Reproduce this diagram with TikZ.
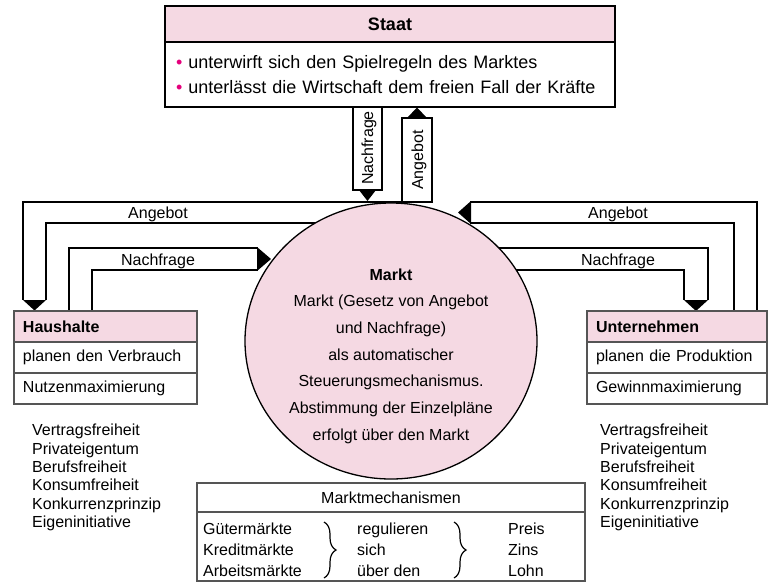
\documentclass[tikz,border=0pt]{standalone}
\usepackage{fontspec}
\setmainfont{Liberation Sans}
\usetikzlibrary{shapes.geometric,decorations.pathreplacing}

\definecolor{rosa}{RGB}{245,217,227}
\definecolor{punkt}{RGB}{228,0,124}
\definecolor{rand}{RGB}{85,85,85}

\begin{document}
\begin{tikzpicture}[x=1pt,y=-1pt,
  every node/.style={font=\fontsize{16}{19}\selectfont},
  band/.style={line width=2pt},
  kasten/.style={draw=rand,line width=1.5pt,outer sep=0pt,anchor=north west,inner xsep=9pt,inner ysep=0pt,align=left},
  liste/.style={anchor=north west,inner sep=0pt,align=left,font=\fontsize{16}{18.3}\selectfont},
  spalte/.style={anchor=west,inner sep=0pt,align=left,font=\fontsize{16}{21}\selectfont},
  klammer/.style={decorate,decoration={brace,amplitude=12pt},line width=1.2pt}]
\useasboundingbox (0,0) rectangle (771,582);

% Staat
\node[draw,line width=2.2pt,outer sep=0pt,fill=rosa,anchor=north,minimum width=450pt,minimum height=36pt,font=\fontsize{18}{21}\selectfont\bfseries] (staat) at (390,6) {Staat};
\node[draw,line width=2.2pt,outer sep=0pt,anchor=north,text width=428pt,inner xsep=11pt,minimum height=65pt,align=left,font=\fontsize{18}{25}\selectfont] (regeln) at (staat.south) {\textcolor{punkt}{•}\hspace{6pt}unterwirft sich den Spielregeln des Marktes\\\textcolor{punkt}{•}\hspace{6pt}unterlässt die Wirtschaft dem freien Fall der Kräfte};

% innere Linien, vom Markt verdeckt
\coordinate (la4) at (46,300);
\coordinate (la5) at (46,223);
\coordinate (la6) at (330,223);
\draw[band] (la4) -- (la5) -- (la6);
\coordinate (rn1) at (450,248);
\coordinate (rn2) at (708,248);
\coordinate (rn3) at (708,300);
\coordinate (rn4) at (684,300);
\coordinate (rn5) at (684,270);
\coordinate (rn6) at (470,270);
\draw[band] (rn1) -- (rn2) -- (rn3);
\draw[band] (rn4) -- (rn5) -- (rn6);

% Markt
\node[ellipse,draw,line width=1.3pt,fill=rosa,minimum width=292pt,minimum height=276pt,inner sep=0pt] (markt) at (391,341) {};
\node[align=center,font=\fontsize{16}{26.7}\selectfont] (markttext) at (391,356) {\textbf{Markt}\\Markt (Gesetz von Angebot\\und Nachfrage)\\als automatischer\\Steuerungsmechanismus.\\Abstimmung der Einzelpläne\\erfolgt über den Markt};

% Angebot links
\coordinate (la1) at (402,202);
\coordinate (la2) at (23,202);
\coordinate (la3) at (23,300);
\draw[band] (la1) -- (la2) -- (la3);
\fill (la3) -- (la4) -- (34.5,310.5) -- cycle;
\node[anchor=base] (angebotL) at (158,218) {Angebot};

% Nachfrage links
\coordinate (ln1) at (69,311);
\coordinate (ln2) at (69,248);
\coordinate (ln3) at (258,248);
\coordinate (ln4) at (258,270);
\coordinate (ln5) at (92,270);
\coordinate (ln6) at (92,311);
\draw[band] (ln1) -- (ln2) -- (ln3);
\draw[band] (ln4) -- (ln5) -- (ln6);
\fill (257,247) -- (257,271) -- (271,259) -- cycle;
\node[anchor=base] (nachfrageL) at (158,265) {Nachfrage};

% Nachfrage rechts
\fill (rn4) -- (rn3) -- (696,311) -- cycle;
\node[anchor=base] (nachfrageR) at (618,265) {Nachfrage};

% Angebot rechts
\coordinate (ra1) at (757,311);
\coordinate (ra2) at (757,202);
\coordinate (ra3) at (470,202);
\coordinate (ra4) at (470,223);
\coordinate (ra5) at (734,223);
\coordinate (ra6) at (734,311);
\draw[band] (ra1) -- (ra2) -- (ra3);
\draw[band] (ra4) -- (ra5) -- (ra6);
\fill (471,201) -- (471,224) -- (458,212.5) -- cycle;
\node[anchor=base] (angebotR) at (618,218) {Angebot};

% Staat <-> Markt
\coordinate (sn1) at (353,107);
\coordinate (sn2) at (353,190);
\coordinate (sn3) at (382,190);
\coordinate (sn4) at (382,107);
\draw[band] (sn1) -- (sn2) -- (sn3) -- (sn4);
\fill (359,190) -- (376,190) -- (367.5,201) -- cycle;
\node[rotate=90] (nachfrageS) at (369,148) {Nachfrage};
\coordinate (sa1) at (402,202);
\coordinate (sa2) at (402,118);
\coordinate (sa3) at (432,118);
\coordinate (sa4) at (432,202);
\draw[band] (sa1) -- (sa2) -- (sa3) -- (sa4) -- cycle;
\fill (407,118) -- (427,118) -- (417,107.5) -- cycle;
\node[rotate=90] (angebotS) at (419,160) {Angebot};

% Haushalte
\node[kasten,fill=rosa,text width=165pt,minimum height=31pt] (hh) at (14,311) {\textbf{Haushalte}};
\node[kasten,text width=165pt,minimum height=31pt] (hh2) at (hh.south west) {planen den Verbrauch};
\node[kasten,text width=165pt,minimum height=31pt] (hh3) at (hh2.south west) {Nutzenmaximierung};
\node[liste] (hhliste) at (32,424) {Vertragsfreiheit\\Privateigentum\\Berufsfreiheit\\Konsumfreiheit\\Konkurrenzprinzip\\Eigeninitiative};

% Unternehmen
\node[kasten,fill=rosa,text width=162pt,minimum height=31pt] (un) at (587,311) {\textbf{Unternehmen}};
\node[kasten,text width=162pt,minimum height=31pt] (un2) at (un.south west) {planen die Produktion};
\node[kasten,text width=162pt,minimum height=31pt] (un3) at (un2.south west) {Gewinnmaximierung};
\node[liste] (unliste) at (600,424) {Vertragsfreiheit\\Privateigentum\\Berufsfreiheit\\Konsumfreiheit\\Konkurrenzprinzip\\Eigeninitiative};

% Marktmechanismen
\node[kasten,text width=370pt,minimum height=29pt,align=center] (mm) at (197,483) {Marktmechanismen};
\node[kasten,text width=370pt,minimum height=69pt] (mm2) at (mm.south west) {};
\node[spalte] (maerkte) at (203,550) {Gütermärkte\\Kreditmärkte\\Arbeitsmärkte};
\node[spalte] (regulieren) at (357,550) {regulieren\\sich\\über den};
\node[spalte] (preise) at (508,550) {Preis\\Zins\\Lohn};
\coordinate (k1a) at (324,522);
\coordinate (k1b) at (324,578);
\coordinate (k2a) at (454,522);
\coordinate (k2b) at (454,578);
\draw[klammer] (k1a) -- (k1b);
\draw[klammer] (k2a) -- (k2b);
\end{tikzpicture}
\end{document}
